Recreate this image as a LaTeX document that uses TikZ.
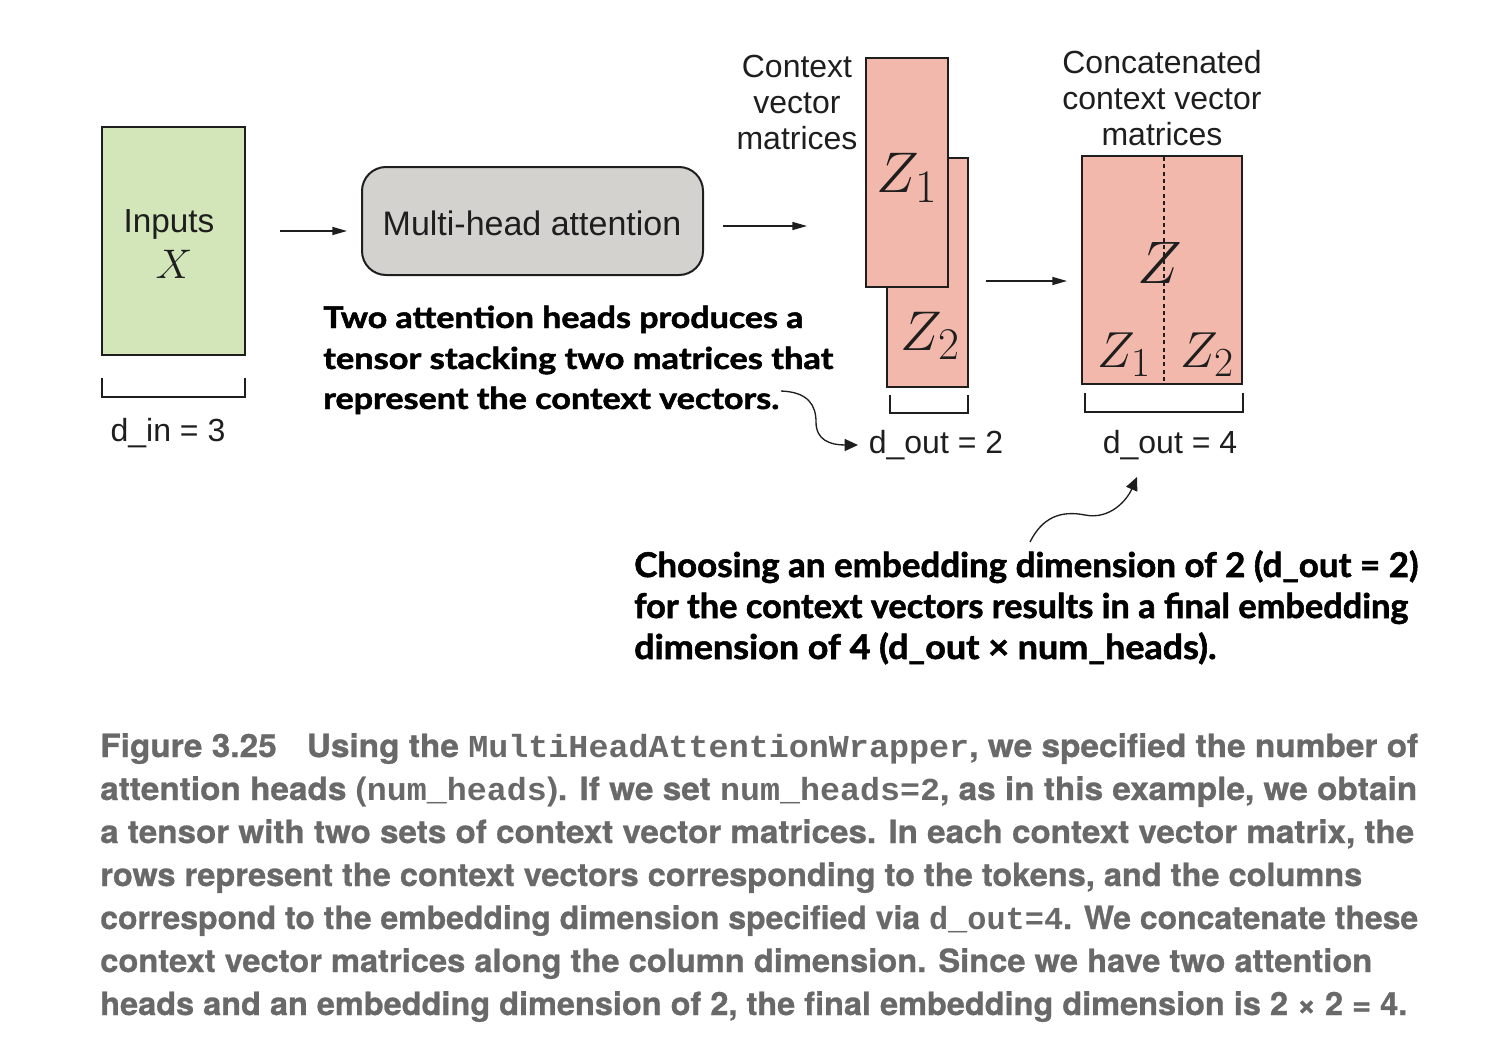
\RequirePackage{fix-cm}
\documentclass[tikz,border=0pt]{standalone}
\usepackage{graphicx}
\usepackage[no-math]{fontspec}
\setmainfont{Liberation Sans}
\newfontfamily\annfont[BoldFeatures={FakeBold=1.6}]{Lato}
\newfontfamily\capfont[BoldFeatures={FakeBold=0.8}]{TeX Gyre Heros}
\setmonofont{Liberation Mono}
\usetikzlibrary{arrows.meta}
\DeclareMathSizes{45}{45}{36}{27}
\DeclareMathSizes{43}{43}{35}{26}
\DeclareMathSizes{42}{42}{34}{25}
\DeclareMathSizes{38}{38}{31}{23}
\definecolor{ingreen}{HTML}{D2E6BA}
\definecolor{zpink}{HTML}{F2B8AC}
\definecolor{mhgray}{HTML}{D3D2CE}
\definecolor{capgray}{HTML}{696969}
\definecolor{ink}{HTML}{1E1E1E}
\newlength\fitlen
\newcommand\fitline[2]{\settowidth\fitlen{#2}\scalebox{\fpeval{(#1*0.75pt)/(\the\fitlen)}}[1]{#2}}
\begin{document}
\begin{tikzpicture}[x=0.75pt,y=-0.75pt,
  box/.style={draw=ink, line width=1.5pt, inner sep=0pt},
  arr/.style={-{Triangle[length=11pt,width=6pt]}, line width=1.1pt, draw=ink},
  carr/.style={-{Triangle[length=10pt,width=9pt]}, line width=1pt, draw=ink},
  brk/.style={line width=1.3pt, draw=ink},
  lbl/.style={font=\fontsize{24}{27}\selectfont, text=ink, inner sep=0pt},
  zlbl/.style={text=ink, inner sep=0pt, anchor=base},
  ann/.style={text=black, inner sep=0pt, anchor=base west},
  captxt/.style={font=\capfont\bfseries\fontsize{24}{32}\selectfont, text=capgray, inner sep=0pt, anchor=base west}]
\useasboundingbox (0,0) rectangle (1506,1042);

% Inputs
\node[box, fill=ingreen, minimum width=143*0.75pt, minimum height=228*0.75pt] (inputs) at (173.5,241) {};
\node[lbl, anchor=base, font=\fontsize{25}{27}\selectfont] (inlbl) at (169,232) {Inputs};
\node[zlbl] (inx) at (174,278) {\fontsize{31}{36}\selectfont$X$};
\draw[brk] (102,378) -- (102,397) -- (245,397) -- (245,378);
\node[lbl, anchor=base] (din) at (168,441) {d\_in = 3};

% Multi-head attention
\node[box, fill=mhgray, rounded corners=18pt, minimum width=341*0.75pt, minimum height=108*0.75pt] (mha) at (532.5,221) {};
\node[lbl, anchor=base, font=\fontsize{25.5}{27}\selectfont] (mhalbl) at (532,235) {Multi-head attention};

\coordinate (a1s) at (280,231);
\coordinate (a1e) at (347,231);
\draw[arr] (a1s) -- (a1e);
\coordinate (a2s) at (723,226);
\coordinate (a2e) at (807,226);
\draw[arr] (a2s) -- (a2e);

% Context vector matrices
\node[lbl, align=center, anchor=north] (ctx) at (797,55) {Context\\vector\\matrices};
\node[box, fill=zpink, minimum width=81*0.75pt, minimum height=229*0.75pt] (z2) at (927.5,272.5) {};
\node[box, fill=zpink, minimum width=82*0.75pt, minimum height=229*0.75pt] (z1) at (907,172.5) {};
\node[zlbl] (z1l) at (907,192) {\fontsize{43}{50}\selectfont$Z_1$};
\node[zlbl] (z2l) at (930,350) {\fontsize{42}{50}\selectfont$Z_2$};
\draw[brk] (890,395) -- (890,413) -- (968,413) -- (968,395);
\node[lbl, anchor=base] (dout2) at (936,453) {d\_out = 2};

\coordinate (a3s) at (986,281);
\coordinate (a3e) at (1067,281);
\draw[arr] (a3s) -- (a3e);

% Concatenated
\node[lbl, align=center, anchor=north] (cc) at (1162,50) {Concatenated\\context vector\\matrices};
\node[box, fill=zpink, minimum width=160*0.75pt, minimum height=228*0.75pt] (concat) at (1162,270) {};
\draw[ink, line width=1.2pt, dash pattern=on 3pt off 2.5pt] (1164,157) -- (1164,383);
\node[zlbl] (zl) at (1160,283) {\fontsize{45}{50}\selectfont$Z$};
\node[zlbl] (zc1) at (1124,367) {\fontsize{38}{44}\selectfont$Z_1$};
\node[zlbl] (zc2) at (1207,367) {\fontsize{38}{44}\selectfont$Z_2$};
\draw[brk] (1085,393) -- (1085,412) -- (1243,412) -- (1243,393);
\node[lbl, anchor=base] (dout4) at (1170,453) {d\_out = 4};

% Annotation 1
\node[ann, font=\annfont\bfseries\fontsize{22.5}{30}\selectfont] (an1a) at (323,328) {\fitline{480}{Two attention heads produces a}};
\node[ann, font=\annfont\bfseries\fontsize{22.5}{30}\selectfont] (an1b) at (323,369) {\fitline{510}{tensor stacking two matrices that}};
\node[ann, font=\annfont\bfseries\fontsize{22.5}{30}\selectfont] (an1c) at (323,409) {\fitline{456}{represent the context vectors.}};
\coordinate (c1s) at (781,391);
\coordinate (c1e) at (858,445);
\draw[carr] (c1s) .. controls (808,392) and (816,405) .. (816,422) .. controls (816,440) and (830,445) .. (c1e);

% Annotation 2
\node[ann, font=\annfont\bfseries\fontsize{25.5}{30}\selectfont] (an2a) at (634,577) {\fitline{784}{Choosing an embedding dimension of 2 (d\_out = 2)}};
\node[ann, font=\annfont\bfseries\fontsize{25.5}{30}\selectfont] (an2b) at (634,618) {\fitline{774}{for the context vectors results in a final embedding}};
\node[ann, font=\annfont\bfseries\fontsize{25.5}{30}\selectfont] (an2c) at (634,659) {\fitline{582}{dimension of 4 (d\_out × num\_heads).}};
\coordinate (c2s) at (1030,542);
\coordinate (c2e) at (1137,477);
\draw[carr] (c2s) .. controls (1042,518) and (1060,510) .. (1085,515) .. controls (1110,520) and (1127,500) .. (c2e);

% Caption
\node[captxt] (cap1) at (100,757) {\fitline{1318}{Figure 3.25\hspace{0.9em}Using the \texttt{MultiHeadAttentionWrapper}, we specified the number of}};
\node[captxt] (cap2) at (100,800) {\fitline{1317}{attention heads (\texttt{num\_heads}). If we set \texttt{num\_heads=2}, as in this example, we obtain}};
\node[captxt] (cap3) at (100,843) {\fitline{1314}{a tensor with two sets of context vector matrices. In each context vector matrix, the}};
\node[captxt] (cap4) at (100,886) {\fitline{1262}{rows represent the context vectors corresponding to the tokens, and the columns}};
\node[captxt] (cap5) at (100,929) {\fitline{1318}{correspond to the embedding dimension specified via \texttt{d\_out=4}. We concatenate these}};
\node[captxt] (cap6) at (100,972) {\fitline{1272}{context vector matrices along the column dimension. Since we have two attention}};
\node[captxt] (cap7) at (100,1015) {\fitline{1307}{heads and an embedding dimension of 2, the final embedding dimension is 2 × 2 = 4.}};
\end{tikzpicture}
\end{document}
